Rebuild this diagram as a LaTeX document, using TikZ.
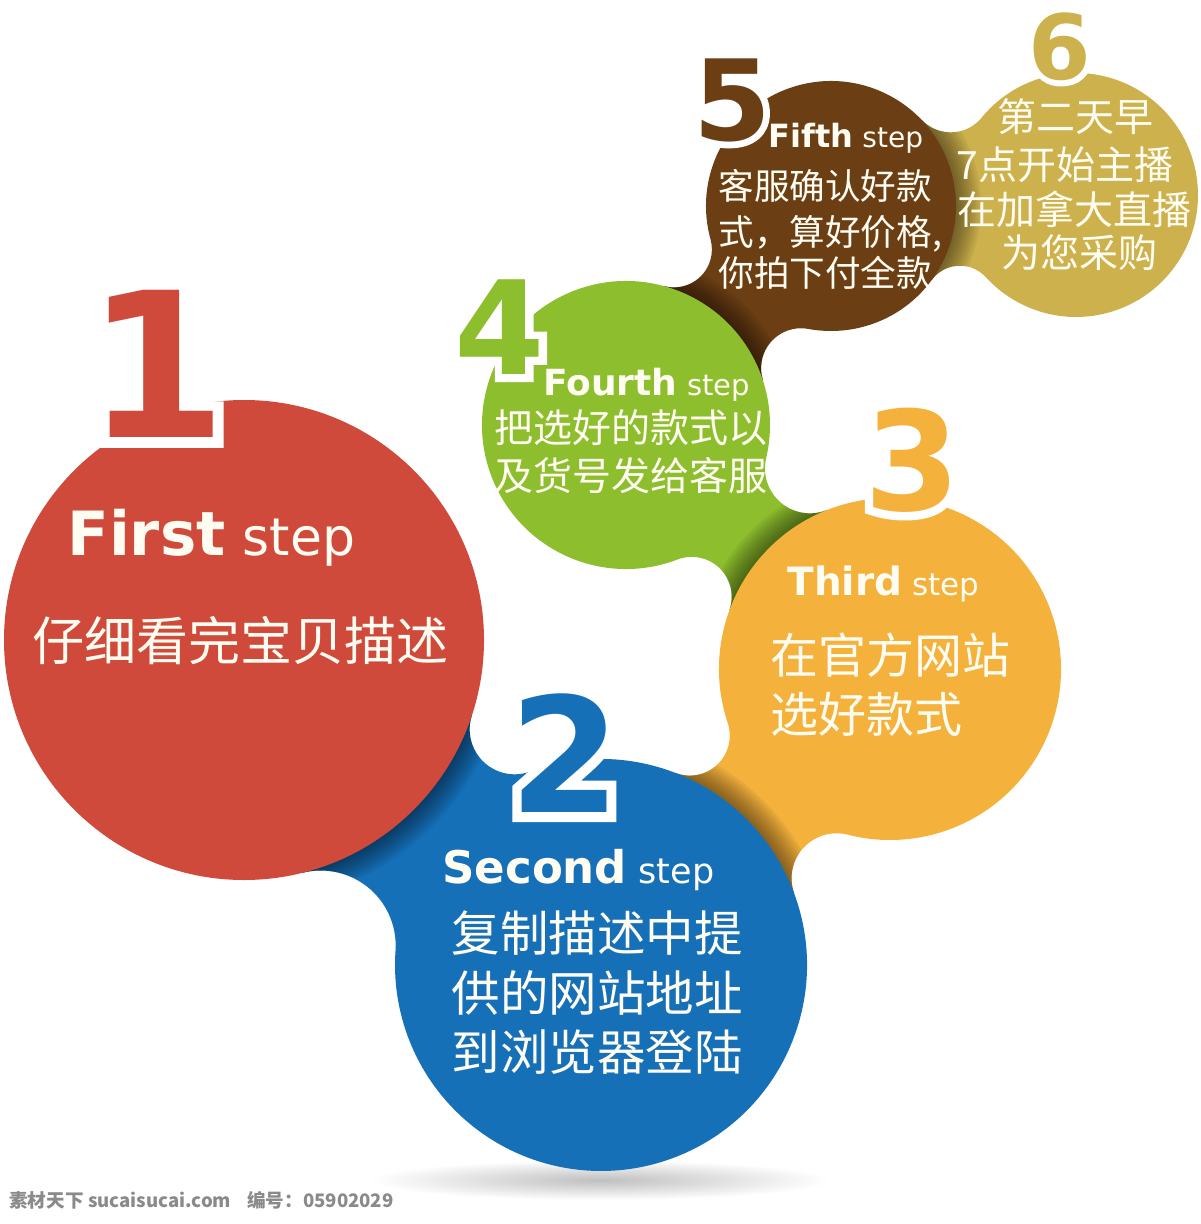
\documentclass[tikz,border=0pt]{standalone}
\usepackage{fontspec}
\setmainfont{DejaVu Sans}
\newfontfamily\cjk{Noto Sans CJK SC}
\newfontfamily\outlineA{DejaVu Sans}[BoldFeatures={FakeBold=10}]
\newfontfamily\outlineB{DejaVu Sans}[BoldFeatures={FakeBold=12}]
\definecolor{cred}{HTML}{D04A3C}
\definecolor{cblue}{HTML}{1570B8}
\definecolor{corange}{HTML}{F4B13C}
\definecolor{cgreen}{HTML}{8DBE2D}
\definecolor{cbrown}{HTML}{6B3E14}
\definecolor{cgold}{HTML}{CDB14C}
\definecolor{txt}{HTML}{FFFDF2}
\definecolor{wmark}{HTML}{8A8A8A}
% #1 bx #2 by #3 rb (shape drawn now), #4 ax #5 ay #6 ra (circle above), #7 f1 #8 f2 fillet radii, #9 colour
\newcommand\blob[9]{%
\pgfmathsetmacro\BLd{sqrt((#4-#1)^2+(#5-#2)^2)}%
\pgfmathsetmacro\BLux{(#4-#1)/\BLd}%
\pgfmathsetmacro\BLuy{(#5-#2)/\BLd}%
\pgfmathsetmacro\BLal{atan2(\BLuy,\BLux)}%
\pgfmathsetmacro\BLa{#3+#7}\pgfmathsetmacro\BLb{#6+#7}%
\pgfmathsetmacro\BLx{(\BLa*\BLa-\BLb*\BLb+\BLd*\BLd)/(2*\BLd)}%
\pgfmathsetmacro\BLh{sqrt(\BLa*\BLa-\BLx*\BLx)}%
\pgfmathsetmacro\BLPx{#1+\BLx*\BLux-\BLh*\BLuy}%
\pgfmathsetmacro\BLPy{#2+\BLx*\BLuy+\BLh*\BLux}%
\pgfmathsetmacro\BLtA{atan2(#5-\BLPy,#4-\BLPx)}%
\pgfmathsetmacro\BLtB{atan2(#2-\BLPy,#1-\BLPx)}%
\pgfmathsetmacro\BLtBe{\BLtA+mod(\BLtB-\BLtA+540,360)-180}%
\pgfmathsetmacro\BLSx{\BLPx+#7*cos(\BLtA)}%
\pgfmathsetmacro\BLSy{\BLPy+#7*sin(\BLtA)}%
\pgfmathsetmacro\BLphiA{\BLtB+180}%
\pgfmathsetmacro\BLa{#3+#8}\pgfmathsetmacro\BLb{#6+#8}%
\pgfmathsetmacro\BLx{(\BLa*\BLa-\BLb*\BLb+\BLd*\BLd)/(2*\BLd)}%
\pgfmathsetmacro\BLh{sqrt(\BLa*\BLa-\BLx*\BLx)}%
\pgfmathsetmacro\BLQx{#1+\BLx*\BLux+\BLh*\BLuy}%
\pgfmathsetmacro\BLQy{#2+\BLx*\BLuy-\BLh*\BLux}%
\pgfmathsetmacro\BLsA{atan2(#5-\BLQy,#4-\BLQx)}%
\pgfmathsetmacro\BLsB{atan2(#2-\BLQy,#1-\BLQx)}%
\pgfmathsetmacro\BLsAe{\BLsB+mod(\BLsA-\BLsB+540,360)-180}%
\pgfmathsetmacro\BLphiB{\BLsB+180}%
\pgfmathsetmacro\BLdA{mod(\BLphiA-\BLal+720,360)}%
\pgfmathsetmacro\BLdB{mod(\BLphiB-\BLal+720,360)}%
\pgfmathsetmacro\BLpS{\BLal+\BLdA}%
\pgfmathsetmacro\BLpE{\BLal+\BLdB}%
\def\BLpath{(\BLSx,\BLSy) arc[start angle=\BLtA,end angle=\BLtBe,radius=#7]
  arc[start angle=\BLpS,end angle=\BLpE,radius=#3]
  arc[start angle=\BLsB,end angle=\BLsAe,radius=#8] -- cycle}%
\fill[#9] \BLpath;
\begin{scope}
\clip \BLpath;
\foreach \k in {1,...,10}{\fill[black,fill opacity=0.05] (#4,#5) circle[radius=#6+0.025*\k];}
\end{scope}%
}
\newcommand\steplabel[3]{{\bfseries\fontsize{#1}{#1}\selectfont #3}{\fontsize{#2}{#2}\selectfont\hspace{0.33em}step}}
\begin{document}
\begin{tikzpicture}[x=50pt,y=-50pt,
  lbl/.style={inner sep=0pt,text=txt},
  numlbl/.style={inner sep=0pt},
  outl/.style={inner sep=0pt,text=white}]
\fill[white] (0,0) rectangle (12,12.24);
\useasboundingbox (0,0) rectangle (12,12.24);
% soft shadow under the blue disc
\shade[inner color=black!25,outer color=white] (6.0,11.80) ellipse[x radius=2.3,y radius=0.2];
% chain of discs, lowest first
\blob{10.76}{1.95}{1.22}{8.31}{2.06}{1.25}{0.40}{0.35}{cgold}
\blob{8.31}{2.06}{1.25}{6.26}{4.25}{1.44}{0.38}{0.40}{cbrown}
\blob{6.26}{4.25}{1.44}{8.90}{6.69}{1.71}{0.40}{0.45}{cgreen}
\blob{8.90}{6.69}{1.71}{6.01}{9.65}{2.06}{0.40}{0.45}{corange}
\blob{6.01}{9.65}{2.06}{2.44}{6.40}{2.40}{0.45}{0.75}{cblue}
\fill[cred] (2.44,6.40) circle[radius=2.40];
% big numbers: white emboldened copy under the coloured digit
\node[outl,font=\outlineA\bfseries\fontsize{101}{101}\selectfont] (n1o) at (1.57,3.64) {1};
\node[numlbl,text=cred,font=\bfseries\fontsize{101}{101}\selectfont] (n1) at (1.57,3.64) {1};
\node[outl,font=\outlineB\bfseries\fontsize{80}{80}\selectfont] (n2o) at (5.65,7.53) {2};
\node[numlbl,text=cblue,font=\bfseries\fontsize{80}{80}\selectfont] (n2) at (5.65,7.53) {2};
\node[outl,font=\outlineB\bfseries\fontsize{69}{69}\selectfont] (n3o) at (9.12,4.60) {3};
\node[numlbl,text=corange,font=\bfseries\fontsize{69}{69}\selectfont] (n3) at (9.12,4.60) {3};
\node[outl,font=\outlineB\bfseries\fontsize{65}{65}\selectfont] (n4o) at (5.00,3.27) {4};
\node[numlbl,text=cgreen,font=\bfseries\fontsize{65}{65}\selectfont] (n4) at (5.00,3.27) {4};
\node[outl,font=\outlineB\bfseries\fontsize{56}{56}\selectfont] (n5o) at (7.32,1.00) {5};
\node[numlbl,text=cbrown,font=\bfseries\fontsize{56}{56}\selectfont] (n5) at (7.32,1.00) {5};
\node[outl,font=\outlineB\bfseries\fontsize{45}{45}\selectfont] (n6o) at (10.60,0.47) {6};
\node[numlbl,text=cgold,font=\bfseries\fontsize{45}{45}\selectfont] (n6) at (10.60,0.47) {6};
% step titles
\node[lbl,anchor=base west] (s1) at (0.67,5.55) {\steplabel{30.5}{26}{First}};
\node[lbl,anchor=base west] (s2) at (4.42,8.83) {\steplabel{22.5}{17.5}{Second}};
\node[lbl,anchor=base west] (s3) at (7.87,5.95) {\steplabel{19.5}{15.5}{Third}};
\node[lbl,anchor=base west] (s4) at (5.43,3.95) {\steplabel{18}{14.5}{Fourth}};
\node[lbl,anchor=base west] (s5) at (7.68,1.48) {\steplabel{16}{14}{Fifth}};
% texts
\node[lbl,anchor=base,font=\cjk\fontsize{26}{26}\selectfont] (r1) at (2.405,6.60) {仔细看完宝贝描述};
\node[lbl,anchor=base,font=\cjk\fontsize{24.25}{24.25}\selectfont] (b1) at (5.97,9.51) {复制描述中提};
\node[lbl,anchor=base,font=\cjk\fontsize{24.25}{24.25}\selectfont] (b2) at (5.97,10.11) {供的网站地址};
\node[lbl,anchor=base,font=\cjk\fontsize{24.25}{24.25}\selectfont] (b3) at (5.97,10.70) {到浏览器登陆};
\node[lbl,anchor=base west,font=\cjk\fontsize{24}{24}\selectfont] (o1) at (7.70,6.73) {在官方网站};
\node[lbl,anchor=base west,font=\cjk\fontsize{24}{24}\selectfont] (o2) at (7.70,7.32) {选好款式};
\node[lbl,anchor=base,font=\cjk\fontsize{19.5}{19.5}\selectfont] (g1) at (6.31,4.43) {把选好的款式以};
\node[lbl,anchor=base,font=\cjk\fontsize{19.5}{19.5}\selectfont] (g2) at (6.31,4.90) {及货号发给客服};
\node[lbl,anchor=base west,font=\cjk\fontsize{17.8}{17.8}\selectfont] (w1) at (7.18,2.00) {客服确认好款};
\node[lbl,anchor=base west,font=\cjk\fontsize{17.8}{17.8}\selectfont] (w2) at (7.18,2.46) {式，算好价格,};
\node[lbl,anchor=base west,font=\cjk\fontsize{17.8}{17.8}\selectfont] (w3) at (7.18,2.87) {你拍下付全款};
\node[lbl,anchor=base,font=\cjk\fontsize{19.5}{19.5}\selectfont] (y1) at (10.75,1.32) {第二天早};
\node[lbl,anchor=base,font=\cjk\fontsize{19.5}{19.5}\selectfont] (y2) at (10.65,1.80) {7点开始主播};
\node[lbl,anchor=base,font=\cjk\fontsize{19.5}{19.5}\selectfont] (y3) at (10.74,2.25) {在加拿大直播};
\node[lbl,anchor=base,font=\cjk\fontsize{19.5}{19.5}\selectfont] (y4) at (10.79,2.68) {为您采购};
% watermark
\node[inner sep=0pt,anchor=west,text=wmark,font=\cjk\bfseries\fontsize{9.3}{9.3}\selectfont] (wm) at (0.09,12.00) {素材天下 sucaisucai.com\hspace{8pt}编号：05902029};
\end{tikzpicture}
\end{document}
